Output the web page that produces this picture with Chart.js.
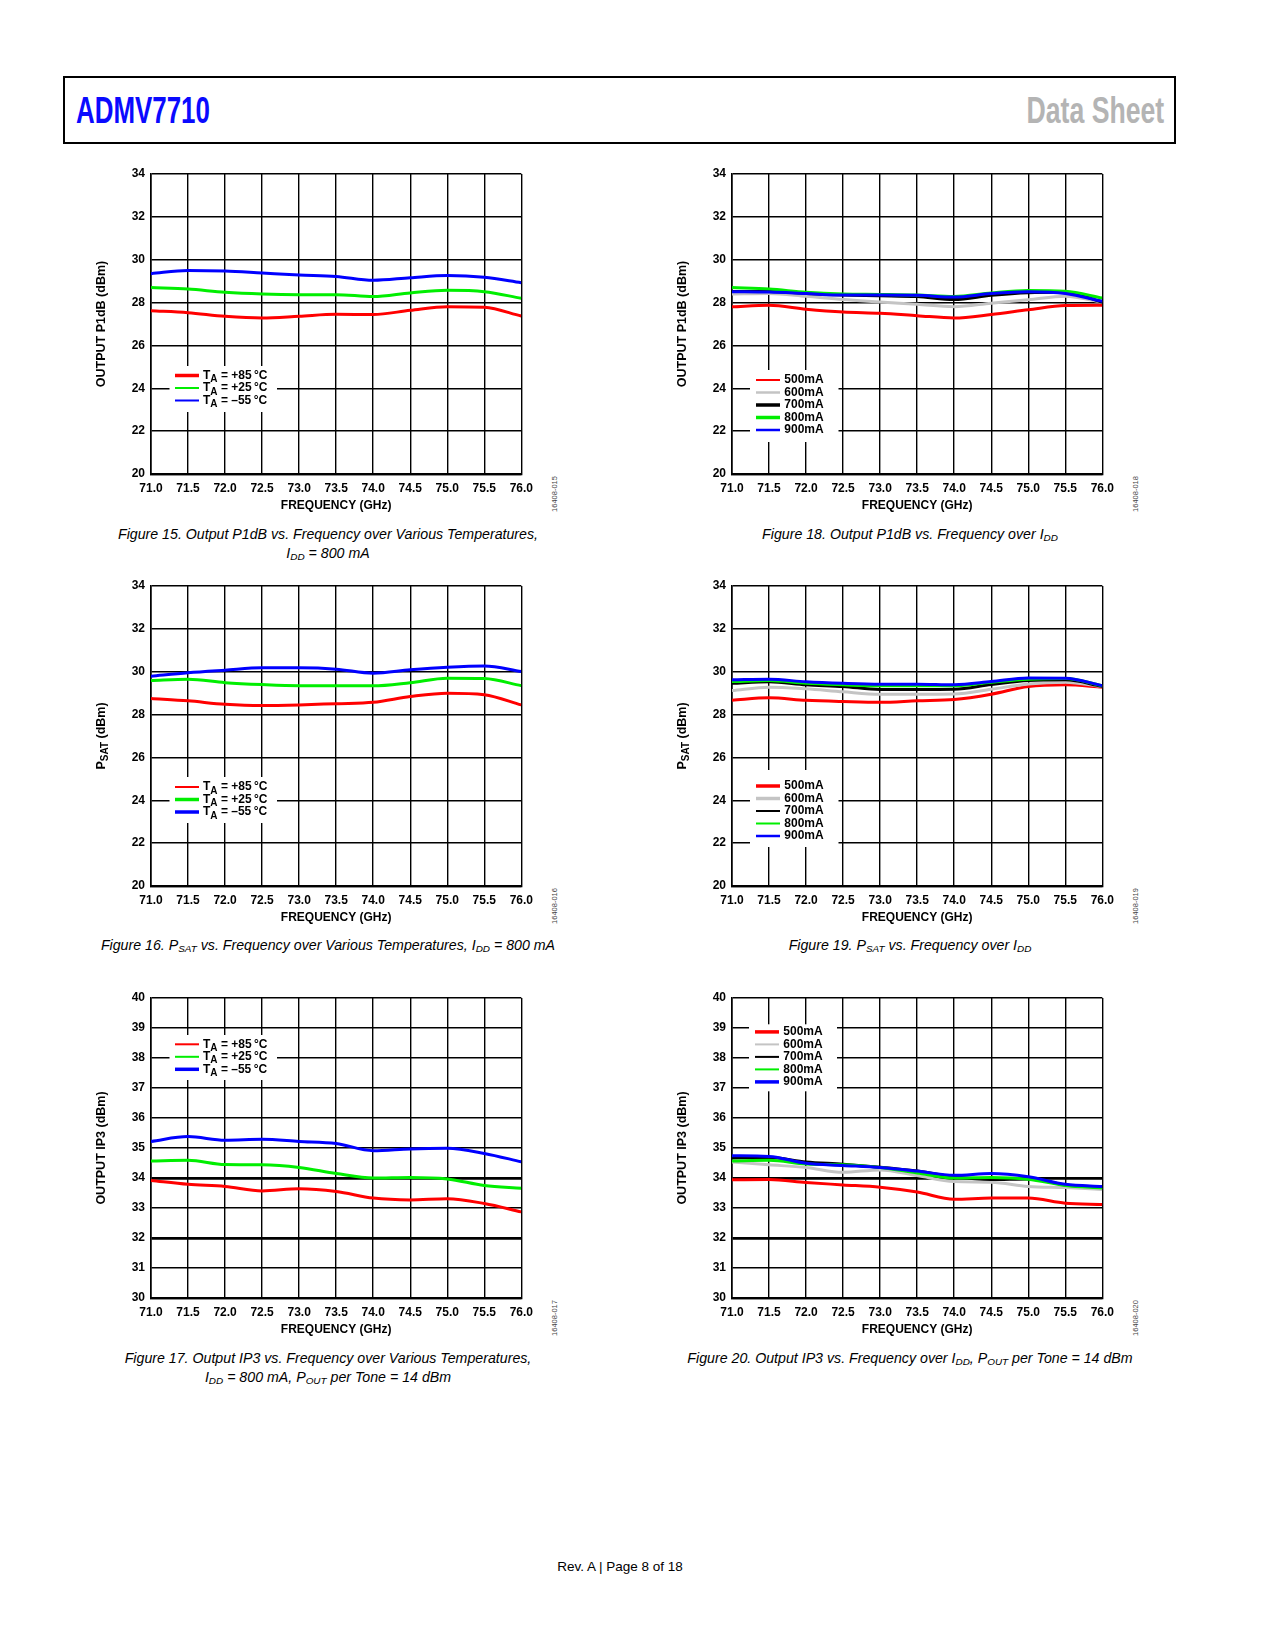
<!DOCTYPE html>
<html>
<head>
<meta charset="utf-8">
<title>ADMV7710 Data Sheet – Page 8</title>
<script src="https://cdn.jsdelivr.net/npm/chart.js@4.4.1/dist/chart.umd.min.js"></script>
<style>
html,body{margin:0;padding:0;background:#fff;}
body{position:relative;width:1275px;height:1650px;overflow:hidden;font-family:"Liberation Sans",Arial,sans-serif;color:#000;}
.hdr{position:absolute;left:63px;top:76px;width:1109px;height:64px;border:2px solid #000;}
.tl{position:absolute;left:76px;top:92px;font:bold 37px/37px "Liberation Sans",Arial,sans-serif;color:#0a0aff;transform:scaleX(0.70);transform-origin:left top;white-space:nowrap;}
.tr{position:absolute;right:111px;top:92px;font:bold 37px/37px "Liberation Sans",Arial,sans-serif;color:#b4b4b4;transform:scaleX(0.72);transform-origin:right top;white-space:nowrap;}
canvas{position:absolute;}
.cap{position:absolute;width:600px;text-align:center;font:italic 14.2px/19px "Liberation Sans",Arial,sans-serif;color:#000;white-space:nowrap;}
.cap sub{font-size:70%;vertical-align:baseline;position:relative;top:0.25em;}
.side{position:absolute;font:7.5px/8px "Liberation Sans",Arial,sans-serif;color:#444;transform:translate(-50%,-50%) rotate(-90deg);white-space:nowrap;}
.foot{position:absolute;left:420px;top:1559px;width:400px;text-align:center;font:13.5px/16px "Liberation Sans",Arial,sans-serif;color:#000;}
</style>
</head>
<body>
<div class="hdr"></div>
<div class="tl">ADMV7710</div>
<div class="tr">Data Sheet</div>

<canvas id="c15" width="455" height="358" style="left:85px;top:160px"></canvas>
<canvas id="c18" width="455" height="358" style="left:666px;top:160px"></canvas>
<canvas id="c16" width="455" height="358" style="left:85px;top:572px"></canvas>
<canvas id="c19" width="455" height="358" style="left:666px;top:572px"></canvas>
<canvas id="c17" width="455" height="358" style="left:85px;top:984px"></canvas>
<canvas id="c20" width="455" height="358" style="left:666px;top:984px"></canvas>

<div class="cap" style="left:28px;top:525px">Figure 15. Output P1dB vs. Frequency over Various Temperatures,<br>I<sub>DD</sub> = 800 mA</div>
<div class="cap" style="left:610px;top:525px">Figure 18. Output P1dB vs. Frequency over I<sub>DD</sub></div>
<div class="cap" style="left:28px;top:936px">Figure 16. P<sub>SAT</sub> vs. Frequency over Various Temperatures, I<sub>DD</sub> = 800 mA</div>
<div class="cap" style="left:610px;top:936px">Figure 19. P<sub>SAT</sub> vs. Frequency over I<sub>DD</sub></div>
<div class="cap" style="left:28px;top:1349px">Figure 17. Output IP3 vs. Frequency over Various Temperatures,<br>I<sub>DD</sub> = 800 mA, P<sub>OUT</sub> per Tone = 14 dBm</div>
<div class="cap" style="left:610px;top:1349px">Figure 20. Output IP3 vs. Frequency over I<sub>DD</sub>, P<sub>OUT</sub> per Tone = 14 dBm</div>

<div class="side" style="left:555px;top:494px">16408-015</div>
<div class="side" style="left:1136px;top:494px">16408-018</div>
<div class="side" style="left:555px;top:906px">16408-016</div>
<div class="side" style="left:1136px;top:906px">16408-019</div>
<div class="side" style="left:555px;top:1318px">16408-017</div>
<div class="side" style="left:1136px;top:1318px">16408-020</div>

<div class="foot">Rev. A | Page 8 of 18</div>

<script>
// ---------- data ----------
const frequencyGHz = [71.0, 71.5, 72.0, 72.5, 73.0, 73.5, 74.0, 74.5, 75.0, 75.5, 76.0];
const powerTicks = [20, 22, 24, 26, 28, 30, 32, 34];
const ip3Ticks = [30, 31, 32, 33, 34, 35, 36, 37, 38, 39, 40];
const tempLabels = ['TA = +85\u2009°C', 'TA = +25\u2009°C', 'TA = \u201355\u2009°C'];
const iddLabels = ['500mA', '600mA', '700mA', '800mA', '900mA'];

// Figure 15: Output P1dB vs frequency over temperature
const p1dbTemp85  = [27.62, 27.53, 27.36, 27.28, 27.36, 27.45, 27.44, 27.64, 27.81, 27.78, 27.37];
const p1dbTemp25  = [28.70, 28.63, 28.48, 28.40, 28.37, 28.37, 28.28, 28.45, 28.57, 28.51, 28.20];
const p1dbTempM55 = [29.35, 29.50, 29.47, 29.38, 29.29, 29.22, 29.04, 29.16, 29.26, 29.18, 28.93];

// Figure 16: PSAT vs frequency over temperature
const psatTemp85  = [28.75, 28.64, 28.48, 28.42, 28.45, 28.51, 28.57, 28.84, 29.00, 28.93, 28.45];
const psatTemp25  = [29.59, 29.65, 29.49, 29.40, 29.35, 29.35, 29.34, 29.49, 29.70, 29.68, 29.35];
const psatTempM55 = [29.79, 29.95, 30.07, 30.18, 30.18, 30.12, 29.93, 30.09, 30.21, 30.27, 30.01];

// Figure 17: Output IP3 vs frequency over temperature
const ip3Temp85  = [33.92, 33.79, 33.72, 33.57, 33.64, 33.55, 33.33, 33.27, 33.31, 33.15, 32.87];
const ip3Temp25  = [34.57, 34.59, 34.45, 34.44, 34.35, 34.15, 34.00, 34.02, 33.97, 33.75, 33.66];
const ip3TempM55 = [35.22, 35.38, 35.26, 35.29, 35.22, 35.15, 34.91, 34.97, 34.99, 34.82, 34.54];

// Figure 18: Output P1dB vs frequency over IDD
const p1dbIdd500 = [27.80, 27.87, 27.69, 27.56, 27.50, 27.39, 27.28, 27.44, 27.66, 27.86, 27.87];
const p1dbIdd600 = [28.40, 28.42, 28.29, 28.14, 28.03, 27.92, 27.81, 27.97, 28.13, 28.30, 28.02];
const p1dbIdd700 = [28.52, 28.52, 28.42, 28.35, 28.32, 28.28, 28.14, 28.34, 28.46, 28.48, 28.02];
const p1dbIdd800 = [28.70, 28.63, 28.48, 28.40, 28.38, 28.35, 28.28, 28.45, 28.56, 28.53, 28.21];
const p1dbIdd900 = [28.51, 28.49, 28.42, 28.35, 28.35, 28.34, 28.26, 28.42, 28.50, 28.42, 28.06];

// Figure 19: PSAT vs frequency over IDD
const psatIdd500 = [28.67, 28.78, 28.67, 28.61, 28.57, 28.64, 28.70, 28.95, 29.31, 29.39, 29.28];
const psatIdd600 = [29.12, 29.28, 29.20, 29.06, 28.95, 28.95, 28.96, 29.18, 29.43, 29.51, 29.30];
const psatIdd700 = [29.46, 29.53, 29.39, 29.31, 29.17, 29.17, 29.18, 29.40, 29.59, 29.62, 29.32];
const psatIdd800 = [29.54, 29.59, 29.46, 29.39, 29.34, 29.34, 29.34, 29.51, 29.65, 29.68, 29.35];
const psatIdd900 = [29.62, 29.65, 29.53, 29.46, 29.42, 29.42, 29.39, 29.54, 29.71, 29.70, 29.35];

// Figure 20: Output IP3 vs frequency over IDD
const ip3Idd500 = [33.94, 33.95, 33.85, 33.77, 33.69, 33.53, 33.29, 33.33, 33.33, 33.16, 33.12];
const ip3Idd600 = [34.53, 34.44, 34.35, 34.19, 34.27, 34.08, 33.88, 33.86, 33.72, 33.68, 33.62];
const ip3Idd700 = [34.67, 34.68, 34.53, 34.46, 34.36, 34.23, 34.04, 33.95, 33.97, 33.77, 33.70];
const ip3Idd800 = [34.57, 34.59, 34.47, 34.44, 34.35, 34.17, 34.00, 34.02, 33.96, 33.75, 33.67];
const ip3Idd900 = [34.74, 34.72, 34.49, 34.42, 34.35, 34.23, 34.09, 34.15, 34.04, 33.79, 33.72];

// ---------- styling ----------
const FONT = '"Liberation Sans", Arial, Helvetica, sans-serif';
const TEMP_COLORS = ['#ff0000', '#00ee00', '#0000ff'];
const IDD_COLORS = ['#ff0000', '#c4c4c4', '#000000', '#00ee00', '#0000ff'];
const IDD_ORDER = [4, 3, 2, 1, 0];

function labelParts(s) {
  if (s.startsWith('TA ')) return [{t: 'T'}, {t: 'A', sub: true}, {t: s.slice(2)}];
  return [{t: s}];
}

function drawRich(ctx, parts, x, y, align, size) {
  const main = 'bold ' + size + 'px ' + FONT;
  const sub = 'bold ' + Math.round(size * 0.8) + 'px ' + FONT;
  let total = 0;
  const widths = parts.map(p => {
    ctx.font = p.sub ? sub : main;
    const w = ctx.measureText(p.t).width;
    total += w;
    return w;
  });
  let cx = align === 'center' ? x - total / 2 : x;
  ctx.textAlign = 'left';
  ctx.textBaseline = 'middle';
  ctx.fillStyle = '#000';
  parts.forEach((p, i) => {
    ctx.font = p.sub ? sub : main;
    ctx.fillText(p.t, cx, p.sub ? y + size * 0.32 : y);
    cx += widths[i];
  });
}

const overlayPlugin = {
  id: 'overlay',
  afterDraw(chart, args, opts) {
    const ctx = chart.ctx;
    const a = chart.chartArea;
    // y axis title (with optional subscript)
    ctx.save();
    ctx.translate(a.left - 49.3, (a.top + a.bottom) / 2);
    ctx.rotate(-Math.PI / 2);
    drawRich(ctx, opts.yTitle, 0, 0, 'center', 12.5);
    ctx.restore();
    // legend inside plot
    const L = opts.legend;
    const x0 = a.left + L.left, y0 = a.top + L.top;
    ctx.save();
    ctx.fillStyle = '#fff';
    ctx.fillRect(x0, y0, L.width, L.height);
    chart.data.datasets.forEach((ds, i) => {
      const y = y0 + L.firstRow + i * L.rowGap;
      ctx.strokeStyle = ds.borderColor;
      ctx.lineWidth = L.lineWidths[i];
      ctx.lineCap = 'butt';
      ctx.beginPath();
      ctx.moveTo(x0 + L.lineStart, y);
      ctx.lineTo(x0 + L.lineEnd, y);
      ctx.stroke();
      drawRich(ctx, labelParts(ds.label), x0 + L.textX, y, 'left', 12);
    });
    ctx.restore();
  }
};

function series(labels, arrays, colors, orders) {
  return arrays.map((arr, i) => ({
    label: labels[i],
    data: arr.map((v, k) => ({x: frequencyGHz[k], y: v})),
    borderColor: colors[i],
    backgroundColor: colors[i],
    borderWidth: 3,
    pointRadius: 0,
    pointHoverRadius: 0,
    fill: false,
    cubicInterpolationMode: 'monotone',
    order: orders ? orders[i] : i
  }));
}

function makeChart(id, datasets, yTicks, thickValues, yTitle, legend) {
  const tickFont = {family: FONT, weight: 'bold', size: 12};
  new Chart(document.getElementById(id), {
    type: 'line',
    data: {datasets: datasets},
    plugins: [overlayPlugin],
    options: {
      responsive: false,
      animation: false,
      events: [],
      layout: {padding: {top: 14, right: 16, left: 0, bottom: 0}},
      plugins: {
        legend: {display: false},
        tooltip: {enabled: false},
        overlay: {yTitle: yTitle, legend: legend}
      },
      scales: {
        x: {
          type: 'linear',
          min: frequencyGHz[0],
          max: frequencyGHz[frequencyGHz.length - 1],
          afterBuildTicks: s => { s.ticks = frequencyGHz.map(v => ({value: v})); },
          afterFit: s => { s.height = 44; },
          ticks: {
            callback: v => Number(v).toFixed(1),
            color: '#000', font: tickFont, padding: 7, maxRotation: 0, autoSkip: false
          },
          grid: {color: '#000', lineWidth: 1.4, drawTicks: false},
          border: {display: true, color: '#000', width: 2.2},
          title: {
            display: true, text: 'FREQUENCY (GHz)', color: '#000',
            font: tickFont, padding: {top: 0, bottom: 4.7}
          }
        },
        y: {
          min: yTicks[0],
          max: yTicks[yTicks.length - 1],
          afterBuildTicks: s => { s.ticks = yTicks.map(v => ({value: v})); },
          afterFit: s => { s.width = 66; },
          ticks: {color: '#000', font: tickFont, padding: 6, autoSkip: false},
          grid: {
            color: '#000',
            drawTicks: false,
            lineWidth: c => {
              const v = c.tick ? c.tick.value : null;
              if (thickValues.includes(v)) return 2.8;
              if (v === yTicks[0]) return 2.2;
              return 1.4;
            }
          },
          border: {display: true, color: '#000', width: 1.6}
        }
      }
    }
  });
}

const tempLegendBase = {left: 18.5, width: 107.5, rowGap: 12.5, lineStart: 5.5, lineEnd: 29.5, textX: 33.5};
const iddLegendBase = {left: 18, width: 88.5, rowGap: 12.5, lineStart: 6, lineEnd: 30, textX: 34.3};

makeChart('c15',
  series(tempLabels, [p1dbTemp85, p1dbTemp25, p1dbTempM55], TEMP_COLORS),
  powerTicks, [],
  [{t: 'OUTPUT P1dB (dBm)'}],
  Object.assign({}, tempLegendBase, {top: 192, height: 46, firstRow: 9.5, lineWidths: [3.5, 2, 2]}));

makeChart('c16',
  series(tempLabels, [psatTemp85, psatTemp25, psatTempM55], TEMP_COLORS),
  powerTicks, [],
  [{t: 'P'}, {t: 'SAT', sub: true}, {t: ' (dBm)'}],
  Object.assign({}, tempLegendBase, {top: 191, height: 46, firstRow: 10, lineWidths: [2, 3.5, 3.5]}));

makeChart('c17',
  series(tempLabels, [ip3Temp85, ip3Temp25, ip3TempM55], TEMP_COLORS),
  ip3Ticks, [32, 34],
  [{t: 'OUTPUT IP3 (dBm)'}],
  Object.assign({}, tempLegendBase, {top: 37, height: 45, firstRow: 9.3, lineWidths: [2, 2, 3.5]}));

makeChart('c18',
  series(iddLabels, [p1dbIdd500, p1dbIdd600, p1dbIdd700, p1dbIdd800, p1dbIdd900], IDD_COLORS, IDD_ORDER),
  powerTicks, [],
  [{t: 'OUTPUT P1dB (dBm)'}],
  Object.assign({}, iddLegendBase, {top: 196, height: 72, firstRow: 10, lineWidths: [2, 2.5, 3.5, 3.5, 2.5]}));

makeChart('c19',
  series(iddLabels, [psatIdd500, psatIdd600, psatIdd700, psatIdd800, psatIdd900], IDD_COLORS, IDD_ORDER),
  powerTicks, [],
  [{t: 'P'}, {t: 'SAT', sub: true}, {t: ' (dBm)'}],
  Object.assign({}, iddLegendBase, {top: 184, height: 77, firstRow: 16, lineWidths: [3.5, 3.5, 2, 2, 2.5]}));

makeChart('c20',
  series(iddLabels, [ip3Idd500, ip3Idd600, ip3Idd700, ip3Idd800, ip3Idd900], IDD_COLORS, IDD_ORDER),
  ip3Ticks, [32, 34],
  [{t: 'OUTPUT IP3 (dBm)'}],
  Object.assign({}, iddLegendBase, {left: 17, width: 88, top: 26.3, height: 67, firstRow: 7.6, lineWidths: [3.5, 2, 2, 2, 3.5]}));
</script>
</body>
</html>
